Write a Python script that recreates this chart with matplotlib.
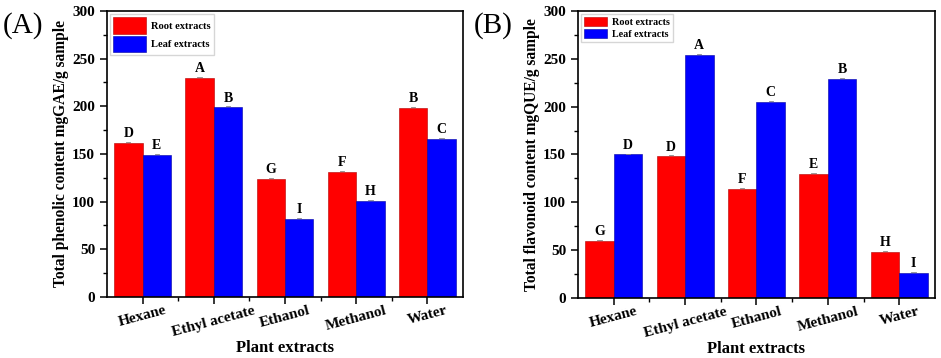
import matplotlib.pyplot as plt
import numpy as np
from matplotlib.ticker import MultipleLocator, FixedLocator

plt.rcParams["font.family"] = ["Liberation Serif", "DejaVu Serif"]
plt.rcParams["font.weight"] = "bold"

solvents = ["Hexane", "Ethyl acetate", "Ethanol", "Methanol", "Water"]

# panel A: total phenolic content
phenolic_root = [162, 230, 124, 131, 198]
phenolic_leaf = [149, 199, 82, 101, 166]
phenolic_root_lbl = ["D", "A", "G", "F", "B"]
phenolic_leaf_lbl = ["E", "B", "I", "H", "C"]

# panel B: total flavonoid content
flavonoid_root = [60, 148, 114, 130, 48]
flavonoid_leaf = [150, 254, 205, 229, 26]
flavonoid_root_lbl = ["G", "D", "F", "E", "H"]
flavonoid_leaf_lbl = ["D", "A", "C", "B", "I"]

fig = plt.figure(figsize=(9.41, 3.58), dpi=100)
ax_a = fig.add_axes([0.1137, 0.1704, 0.3783, 0.7989])
ax_b = fig.add_axes([0.6142, 0.1676, 0.3794, 0.8017])

w = 0.4
x = np.arange(len(solvents))


def draw(ax, root, leaf, root_lbl, leaf_lbl, ylabel, legend_fs, legend_h, legend_l):
    ax.bar(x - w / 2, root, w, color="#ff0000", edgecolor="#b00000",
           linewidth=0.4, label="Root extracts")
    ax.bar(x + w / 2, leaf, w, color="#0000ff", edgecolor="#0000a0",
           linewidth=0.4, label="Leaf extracts")
    for xi, v, t in zip(x - w / 2, root, root_lbl):
        ax.plot([xi - 0.03, xi + 0.03], [v + 1, v + 1], color="#888888", lw=0.6)
        ax.annotate(t, (xi, v), xytext=(0, 2), textcoords="offset points",
                    ha="center", va="bottom", fontsize=10, fontweight="bold")
    for xi, v, t in zip(x + w / 2, leaf, leaf_lbl):
        ax.plot([xi - 0.03, xi + 0.03], [v + 1, v + 1], color="#888888", lw=0.6)
        ax.annotate(t, (xi, v), xytext=(0, 2), textcoords="offset points",
                    ha="center", va="bottom", fontsize=10, fontweight="bold")
    ax.set_xlim(-0.5, 4.5)
    ax.set_ylim(0, 300)
    ax.yaxis.set_major_locator(MultipleLocator(50))
    ax.yaxis.set_minor_locator(MultipleLocator(25))
    ax.set_xticks(x)
    ax.xaxis.set_minor_locator(FixedLocator(x[:-1] + 0.5))
    ax.set_xticklabels(solvents, rotation=15, ha="center", fontsize=11,
                       fontweight="bold")
    ax.tick_params(axis="y", labelsize=11, length=5, width=1.1)
    ax.tick_params(axis="x", length=5, width=1.1, pad=0)
    ax.tick_params(which="minor", length=3, width=1.0)
    for lab in ax.get_yticklabels():
        lab.set_fontweight("bold")
    for s in ax.spines.values():
        s.set_linewidth(1.2)
    ax.set_ylabel(ylabel, fontsize=11.2, fontweight="bold", labelpad=2)
    ax.set_xlabel("Plant extracts", fontsize=12, fontweight="bold", labelpad=1)
    ax.legend(loc="upper left", frameon=True, fancybox=False,
              edgecolor="#cccccc", borderaxespad=0.3, handlelength=legend_l,
              handleheight=legend_h, borderpad=0.3, labelspacing=0.2,
              handletextpad=0.5, prop={"weight": "bold", "size": legend_fs})


draw(ax_a, phenolic_root, phenolic_leaf, phenolic_root_lbl, phenolic_leaf_lbl,
     "Total phenolic content mgGAE/g sample", 7.6, 2.0, 3.1)
draw(ax_b, flavonoid_root, flavonoid_leaf, flavonoid_root_lbl, flavonoid_leaf_lbl,
     "Total flavonoid content mgQUE/g sample", 7.3, 1.0, 2.3)

fig.text(0.003, 0.93, "(A)", fontsize=21, fontweight="normal", va="center", ha="left")
fig.text(0.503, 0.93, "(B)", fontsize=21, fontweight="normal", va="center", ha="left")

fig.savefig("out.png", dpi=100)
